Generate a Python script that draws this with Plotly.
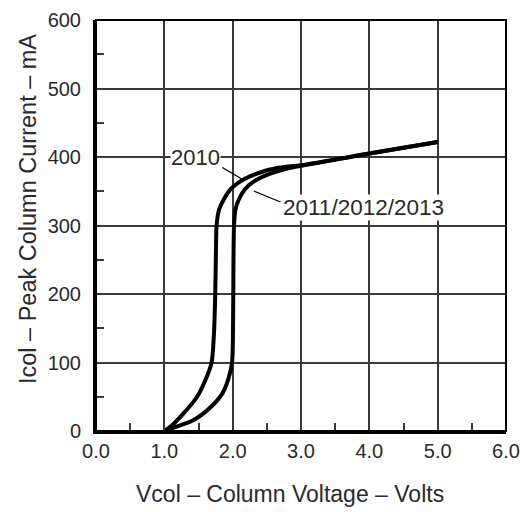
import plotly.graph_objects as go

# Data
v_2010 = [1.00, 1.13, 1.285, 1.48, 1.60, 1.69, 1.725, 1.745, 1.755, 1.765, 1.80, 1.87, 1.97, 2.09, 2.26, 2.48, 2.73, 3.0, 4.0, 5.0]
i_2010 = [0, 10, 26, 50, 74, 99, 140, 200, 260, 300, 323, 338, 353, 363, 372, 380, 385, 388, 405, 422]

v_2011 = [1.00, 1.20, 1.43, 1.68, 1.85, 1.93, 1.99, 2.005, 2.012, 2.02, 2.04, 2.09, 2.18, 2.29, 2.46, 2.65, 2.80, 3.0, 4.0, 5.0]
i_2011 = [0, 7, 16, 35, 55, 74, 99, 150, 250, 300, 323, 338, 353, 363, 372, 379, 383, 387, 405, 422]

x_ticks = [0, 1, 2, 3, 4, 5, 6]
x_labels = ["0.0", "1.0", "2.0", "3.0", "4.0", "5.0", "6.0"]
y_ticks = [0, 100, 200, 300, 400, 500, 600]
y_labels = ["0", "100", "200", "300", "400", "500", "600"]

label_2010 = "2010"
label_2011 = "2011/2012/2013"
x_title = "Vcol – Column Voltage – Volts"
y_title = "Icol – Peak Column Current – mA"

FONT = "Liberation Sans, Arial, sans-serif"
TXT = "#2a2a2a"
GRID = "#3a3a3a"

fig = go.Figure()
for xs, ys in [(v_2010, i_2010), (v_2011, i_2011)]:
    fig.add_trace(go.Scatter(x=xs, y=ys, mode="lines",
                             line=dict(color="black", width=4, shape="spline", smoothing=0.8),
                             showlegend=False, hoverinfo="skip"))

axis_common = dict(showgrid=True, gridcolor=GRID, gridwidth=1.5, zeroline=False,
                   showline=True, linecolor="black", linewidth=3, ticks="",
                   automargin=False,
                   tickfont=dict(family=FONT, size=20, color=TXT),
                   minor=dict(ticks="inside", ticklen=8, tickwidth=1.5, tickcolor=GRID, showgrid=False))

fig.update_xaxes(range=[0, 6], tickvals=x_ticks, ticktext=x_labels,
                 ticklabelstandoff=0, **axis_common)
fig.update_xaxes(minor_dtick=0.5)
fig.update_yaxes(range=[0, 600], tickvals=y_ticks, ticktext=y_labels,
                 ticklabelstandoff=8, **axis_common)
fig.update_yaxes(minor_dtick=50)

# border (top/right)
fig.add_shape(type="rect", xref="paper", yref="paper", x0=0, y0=0, x1=1, y1=1,
              line=dict(color="black", width=2))

# leader lines
fig.add_shape(type="line", x0=1.848, y0=384.6, x1=2.14, y1=367.5,
              line=dict(color="black", width=1.3))
fig.add_shape(type="line", x0=2.31, y0=350.4, x1=2.70, y1=334.3,
              line=dict(color="black", width=1.3))

fig.add_annotation(x=1.46, y=399, text=label_2010, showarrow=False,
                   font=dict(family=FONT, size=22, color=TXT), bgcolor="white", borderpad=0)
fig.add_annotation(x=3.92, y=327, text=label_2011, showarrow=False,
                   font=dict(family=FONT, size=22.5, color=TXT), bgcolor="white", borderpad=0)

fig.add_annotation(xref="paper", yref="paper", x=0.472, y=-0.153, text=x_title,
                   xanchor="center", yanchor="middle",
                   showarrow=False, font=dict(family=FONT, size=23, color=TXT))
fig.add_annotation(xref="paper", yref="paper", x=-0.166, y=0.54, text=y_title, textangle=-90,
                   xanchor="center", yanchor="middle",
                   showarrow=False, font=dict(family=FONT, size=23.5, color=TXT))

fig.update_layout(width=525, height=512, margin=dict(l=96, r=19, t=20, b=81, autoexpand=False),
                  plot_bgcolor="white", paper_bgcolor="white")

fig.write_html("out.html", config={"displayModeBar": False},
               post_script="document.body.style.margin='0';")
